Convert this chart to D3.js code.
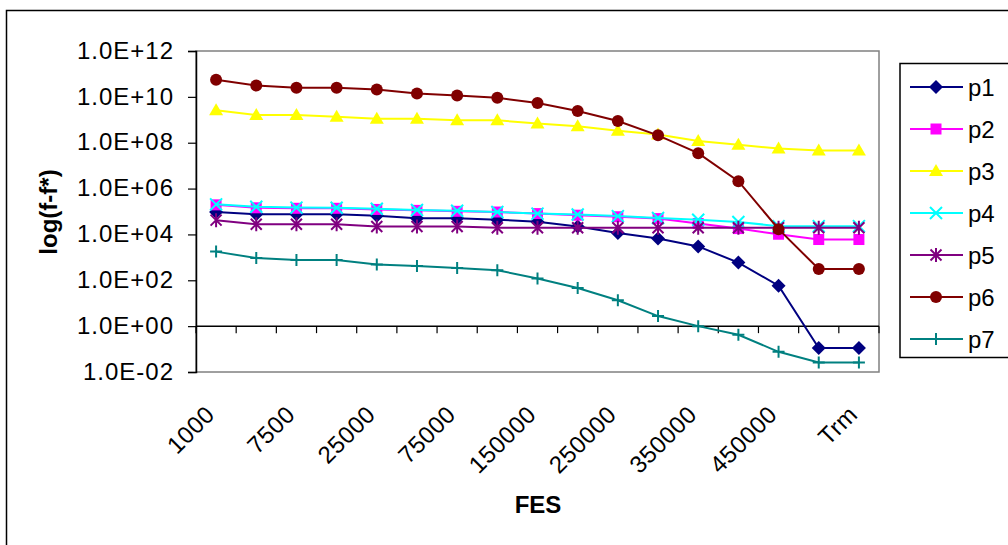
<!DOCTYPE html>
<html>
<head>
<meta charset="utf-8">
<script src="https://cdn.jsdelivr.net/npm/d3@7"></script>
<style>
  body { margin: 0; background: #fff; }
  svg { display: block; }
  text { font-family: "Liberation Sans", Arial, sans-serif; fill: #000; }
</style>
</head>
<body>
<svg id="chart" width="1008" height="545"></svg>
<script>
// FES checkpoints (only every second one gets a label)
var categories = ["1000","5000","7500","10000","25000","50000","75000","100000","150000",
                  "200000","250000","300000","350000","400000","450000","500000","Trm"];
var tickValuesY = [1e-2, 1e0, 1e2, 1e4, 1e6, 1e8, 1e10, 1e12];

var seriesNames = ["p1","p2","p3","p4","p5","p6","p7"];
var p1 = [9.5e4,7.6e4,7.6e4,7.6e4,6.5e4,5.1e4,5.1e4,4.4e4,3.6e4,2.2e4,1.15e4,6.6e3,3.0e3,590,58,0.11,0.11];
var p2 = [1.95e5,1.45e5,1.38e5,1.38e5,1.23e5,1.12e5,1.02e5,9.5e4,8.1e4,6.9e4,5.9e4,4.9e4,3.0e4,1.8e4,1.02e4,6.0e3,6.0e3];
var p3 = [2.6e9,1.6e9,1.6e9,1.35e9,1.1e9,1.1e9,9.5e8,9.5e8,6.9e8,5.2e8,3.3e8,2.3e8,1.2e8,8.1e7,5.6e7,4.6e7,4.6e7];
var p4 = [2.05e5,1.6e5,1.48e5,1.45e5,1.32e5,1.17e5,1.07e5,9.5e4,8.1e4,7.4e4,6.3e4,5.2e4,4.4e4,3.5e4,2.3e4,2.3e4,2.3e4];
var p5 = [4.2e4,2.8e4,2.8e4,2.8e4,2.2e4,2.2e4,2.2e4,1.95e4,1.95e4,1.95e4,1.95e4,1.95e4,1.95e4,1.95e4,1.95e4,1.95e4,1.95e4];
var p6 = [5.6e10,3.1e10,2.5e10,2.5e10,2.1e10,1.4e10,1.15e10,9.1e9,5.4e9,2.4e9,8.9e8,2.1e8,3.5e7,2.1e6,1.7e4,310,310];
var p7 = [1780,930,760,760,490,420,340,275,120,46,13.5,2.75,1.0,0.42,0.076,0.026,0.026];

var seriesValues = [p1,p2,p3,p4,p5,p6,p7];
var colors = ["#000080","#FF00FF","#FFFF00","#00FFFF","#800080","#800000","#008080"];

var svg = d3.select("#chart");

// outer chart border (runs off the right / bottom of the picture)
svg.append("rect").attr("x",6.5).attr("y",10.5).attr("width",1200).attr("height",700)
  .attr("fill","none").attr("stroke","#000").attr("stroke-width",1.5);

// plot area bounds (top is a reserved window name, so prefixed)
var plotL = 196, plotR = 879, plotT = 51, plotB = 372;

var x = d3.scaleBand().domain(categories).range([plotL, plotR]).padding(0);
var y = d3.scaleLog().domain([1e-2, 1e12]).range([plotB, plotT]);

// plot area frame (grey)
svg.append("rect").attr("x",plotL).attr("y",plotT).attr("width",plotR-plotL).attr("height",plotB-plotT)
  .attr("fill","none").attr("stroke","#808080").attr("stroke-width",1.5);

function fmt(v){
  var e = Math.round(Math.log10(v));
  return "1.0E" + (e < 0 ? "-" : "+") + String(Math.abs(e)).padStart(2,"0");
}

// y axis
var yAxis = svg.append("g").attr("transform","translate(" + plotL + ",0)")
  .call(d3.axisLeft(y).tickValues(tickValuesY).tickFormat(fmt).tickSize(8).tickPadding(14));
yAxis.select(".domain").attr("stroke","#000").attr("stroke-width",1.5);
yAxis.selectAll(".tick line").attr("stroke","#000").attr("stroke-width",1.2);
yAxis.selectAll(".tick text").attr("font-size",24).attr("letter-spacing","1px")
  .attr("font-family","Liberation Sans, Arial, sans-serif").attr("dy","0.3em").attr("fill","#000");

// x axis crosses at 1.0E+00, tick marks at category boundaries
var y0 = y(1);
svg.append("line").attr("x1",plotL).attr("x2",plotR).attr("y1",y0).attr("y2",y0)
  .attr("stroke","#000").attr("stroke-width",1.5);
var bounds = d3.range(categories.length + 1);
svg.selectAll(".xtick").data(bounds).enter().append("line")
  .attr("class","xtick")
  .attr("x1", function(k){ return plotL + k * x.step(); })
  .attr("x2", function(k){ return plotL + k * x.step(); })
  .attr("y1", y0).attr("y2", y0 + 7)
  .attr("stroke","#000").attr("stroke-width",1.2);

// x tick labels, every second category, rotated
svg.selectAll(".xlab").data(categories.filter(function(d,i){ return i % 2 == 0; }))
  .enter().append("text")
  .attr("class","xlab")
  .attr("transform", function(d){
    return "translate(" + (x(d) + x.bandwidth()/2) + ",416) rotate(-45)";
  })
  .attr("text-anchor","end").attr("font-size",24).attr("letter-spacing","0.5px")
  .text(function(d){ return d; });

// axis titles
svg.append("text").attr("x",538).attr("y",513).attr("text-anchor","middle")
  .attr("font-size",24).attr("font-weight","bold").text("FES");
svg.append("text").attr("transform","translate(57,212) rotate(-90)").attr("text-anchor","middle")
  .attr("font-size",24).attr("font-weight","bold").text("log(f-f*)");

// markers
function marker(g, idx, color){
  if (idx == 0) {
    g.append("path").attr("d","M0,-7L7,0L0,7L-7,0Z").attr("fill",color);
  } else if (idx == 1) {
    g.append("rect").attr("x",-5.5).attr("y",-5.5).attr("width",11).attr("height",11).attr("fill",color);
  } else if (idx == 2) {
    g.append("path").attr("d","M0,-7L7,5L-7,5Z").attr("fill",color);
  } else if (idx == 3) {
    g.append("path").attr("d","M-6,-6L6,6M-6,6L6,-6").attr("stroke",color).attr("stroke-width",2).attr("fill","none");
  } else if (idx == 4) {
    g.append("path").attr("d","M-5.5,-5.5L5.5,5.5M-5.5,5.5L5.5,-5.5M0,-7L0,7").attr("stroke",color).attr("stroke-width",2).attr("fill","none");
  } else if (idx == 5) {
    g.append("circle").attr("r",6).attr("fill",color);
  } else {
    g.append("path").attr("d","M-6,0L6,0M0,-6L0,6").attr("stroke",color).attr("stroke-width",2).attr("fill","none");
  }
}

var line = d3.line()
  .x(function(d,i){ return x(categories[i]) + x.bandwidth()/2; })
  .y(function(d){ return y(d); });

seriesValues.forEach(function(vals, s){
  var g = svg.append("g");
  g.append("path").datum(vals).attr("d", line)
    .attr("fill","none").attr("stroke",colors[s]).attr("stroke-width",2);
  vals.forEach(function(v,i){
    var m = g.append("g").attr("transform","translate(" + (x(categories[i]) + x.bandwidth()/2) + "," + y(v) + ")");
    marker(m, s, colors[s]);
  });
});

// legend
svg.append("rect").attr("x",900).attr("y",63.5).attr("width",200).attr("height",294)
  .attr("fill","#fff").attr("stroke","#000").attr("stroke-width",1.5);
seriesNames.forEach(function(name, s){
  var ly = 87 + s * 42;
  svg.append("line").attr("x1",910).attr("x2",963).attr("y1",ly).attr("y2",ly)
    .attr("stroke",colors[s]).attr("stroke-width",2);
  var m = svg.append("g").attr("transform","translate(936," + ly + ")");
  marker(m, s, colors[s]);
  svg.append("text").attr("x",968).attr("y",ly + 9).attr("font-size",24).text(name);
});
</script>
</body>
</html>
